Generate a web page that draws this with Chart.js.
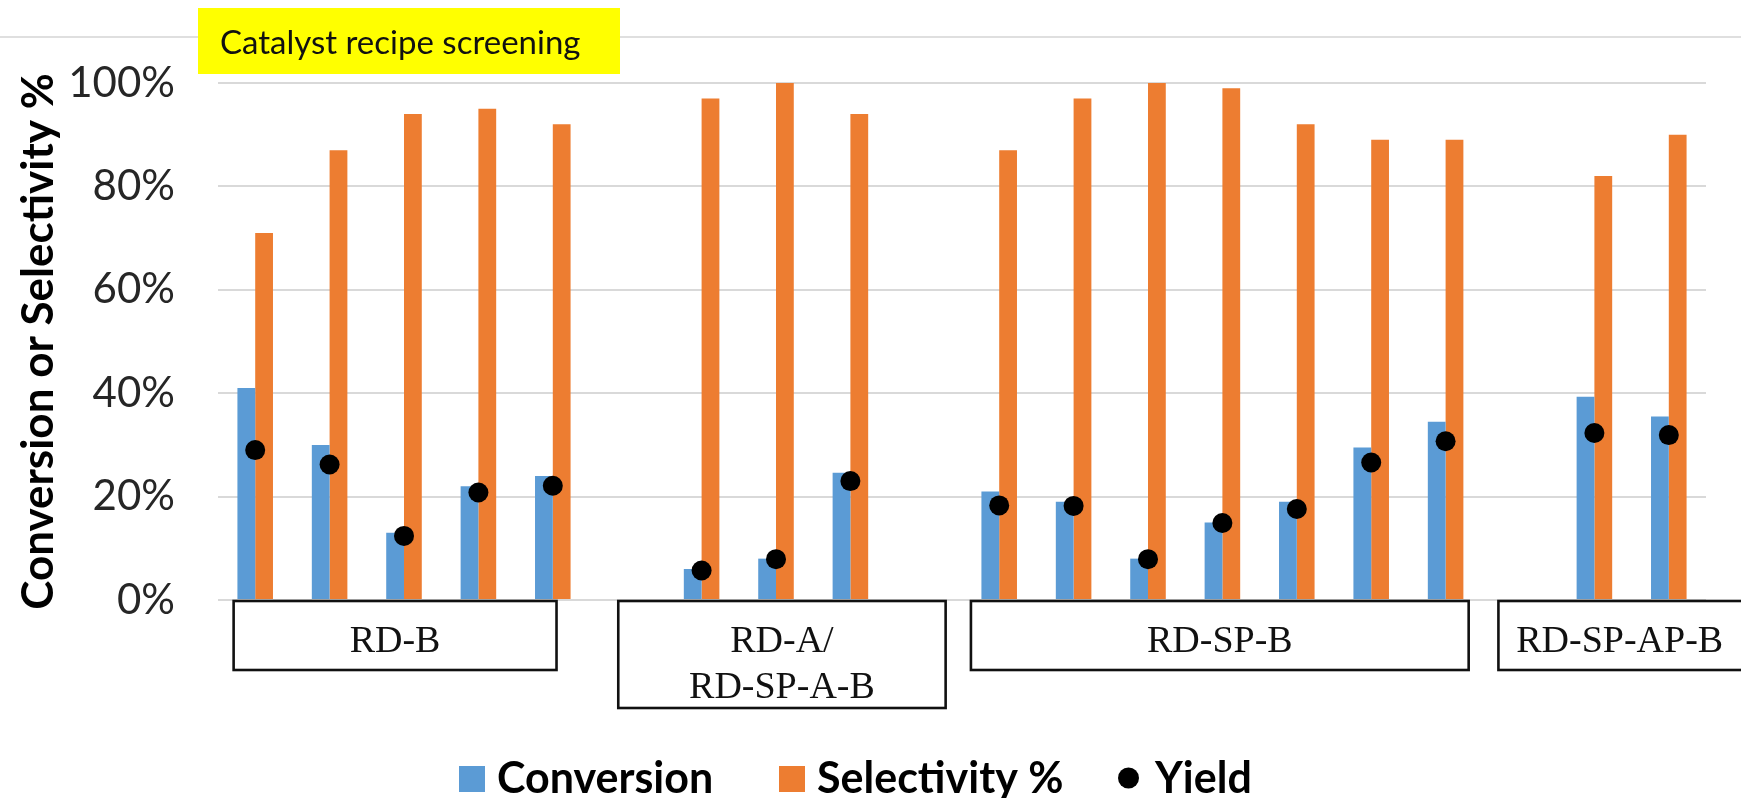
<!DOCTYPE html>
<html>
<head>
<meta charset="utf-8">
<script src="https://cdn.jsdelivr.net/npm/chart.js@4/dist/chart.umd.min.js"></script>
<style>
  html, body { margin: 0; padding: 0; background: #ffffff; }
  #wrap { width: 1741px; height: 798px; position: relative; }
</style>
</head>
<body>
<div id="wrap"><canvas id="chart" width="1741" height="798"></canvas></div>
<script>
// Catalyst recipe screening: conversion, selectivity and yield per run (%)
// Empty slots (null) separate the recipe families.
const runs = [
  'RD-B 1', 'RD-B 2', 'RD-B 3', 'RD-B 4', 'RD-B 5', '',
  'RD-A 1', 'RD-A 2', 'RD-SP-A-B 1', '',
  'RD-SP-B 1', 'RD-SP-B 2', 'RD-SP-B 3', 'RD-SP-B 4', 'RD-SP-B 5', 'RD-SP-B 6', 'RD-SP-B 7', '',
  'RD-SP-AP-B 1', 'RD-SP-AP-B 2'
];
const conversion = [41, 30, 13, 22, 24, null, 6, 8, 24.6, null, 21, 19, 8, 15, 19, 29.5, 34.5, null, 39.3, 35.5];
const selectivity = [71, 87, 94, 95, 92, null, 97, 100, 94, null, 87, 97, 100, 99, 92, 89, 89, null, 82, 90];
const yieldPct = [29, 26.2, 12.4, 20.8, 22.1, null, 5.7, 7.9, 23, null, 18.3, 18.2, 7.9, 14.9, 17.6, 26.6, 30.7, null, 32.3, 31.9];
const yTicks = [0, 20, 40, 60, 80, 100];

// Recipe family captions shown in boxes under the bars (first/last run index)
const families = [
  { lines: ['RD-B'], first: 0, last: 4 },
  { lines: ['RD-A/', 'RD-SP-A-B'], first: 6, last: 8 },
  { lines: ['RD-SP-B'], first: 10, last: 16 },
  { lines: ['RD-SP-AP-B'], first: 18, last: 19 }
];
// Box extents around each family, in category units
const familyBoxSpan = [
  { from: -0.29, to: 4.05 },
  { from: 4.88, to: 9.28 },
  { from: 9.62, to: 16.31 },
  { from: 16.71, to: 20.6 }
];

const BLUE = '#5B9BD5';
const ORANGE = '#ED7D31';
const SANS = 'Lato, "Open Sans", sans-serif';
const SERIF = '"Liberation Serif", "DejaVu Serif", serif';

const decorations = {
  id: 'decorations',
  beforeDraw(chart) {
    const { ctx, width, height } = chart;
    ctx.save();
    ctx.fillStyle = '#ffffff';
    ctx.fillRect(0, 0, width, height);
    ctx.restore();
  },
  afterDraw(chart) {
    const { ctx } = chart;
    const x = chart.scales.x;
    ctx.save();

    // thin rule across the top
    ctx.strokeStyle = '#d4d4d4';
    ctx.lineWidth = 1.5;
    ctx.beginPath();
    ctx.moveTo(0, 37);
    ctx.lineTo(chart.width, 37);
    ctx.stroke();

    // highlighted caption
    ctx.fillStyle = '#FFFF00';
    ctx.fillRect(198, 8, 422, 66);
    ctx.fillStyle = '#111111';
    ctx.font = '33px ' + SANS;
    ctx.textAlign = 'left';
    ctx.textBaseline = 'alphabetic';
    ctx.fillText('Catalyst recipe screening', 220, 54);

    // recipe family boxes
    const top = chart.chartArea.bottom + 1;
    families.forEach((fam, i) => {
      const span = familyBoxSpan[i];
      const left = x.getPixelForValue(span.from);
      const right = x.getPixelForValue(span.to);
      const h = 69 + (fam.lines.length - 1) * 38;
      ctx.fillStyle = '#ffffff';
      ctx.fillRect(left, top, right - left, h);
      ctx.strokeStyle = '#111111';
      ctx.lineWidth = 2.6;
      ctx.strokeRect(left, top, right - left, h);
      ctx.fillStyle = '#111111';
      ctx.font = '38px ' + SERIF;
      ctx.textAlign = 'center';
      ctx.textBaseline = 'alphabetic';
      const cx = Math.min((left + right) / 2, (left + chart.width) / 2);
      fam.lines.forEach((line, k) => {
        ctx.fillText(line, cx, top + 51 + k * 46);
      });
    });

    // legend, in dataset order
    const legendX = [459, 779, 1118];
    ctx.font = 'bold 43px ' + SANS;
    ctx.textAlign = 'left';
    ctx.textBaseline = 'alphabetic';
    chart.data.datasets.forEach((ds, i) => {
      const lx = legendX[i];
      ctx.fillStyle = ds.backgroundColor;
      if (ds.type === 'line') {
        ctx.beginPath();
        ctx.arc(lx + 10.5, 778, 10.5, 0, Math.PI * 2);
        ctx.fill();
        ctx.fillStyle = '#000000';
        ctx.fillText(ds.label, lx + 37, 793);
      } else {
        ctx.fillRect(lx, 766, 26, 26);
        ctx.fillStyle = '#000000';
        ctx.fillText(ds.label, lx + 38, 793);
      }
    });
    ctx.restore();
  }
};

new Chart(document.getElementById('chart'), {
  data: {
    labels: runs,
    datasets: [
      {
        type: 'bar',
        label: 'Conversion',
        data: conversion,
        backgroundColor: BLUE,
        categoryPercentage: 0.478,
        barPercentage: 1.0,
        order: 1
      },
      {
        type: 'bar',
        label: 'Selectivity %',
        data: selectivity,
        backgroundColor: ORANGE,
        categoryPercentage: 0.478,
        barPercentage: 1.0,
        order: 1
      },
      {
        type: 'line',
        label: 'Yield',
        data: yieldPct,
        showLine: false,
        backgroundColor: '#000000',
        borderColor: '#000000',
        pointRadius: 10,
        pointHoverRadius: 10,
        pointBorderWidth: 0,
        order: 0
      }
    ]
  },
  options: {
    responsive: false,
    animation: false,
    layout: { padding: { top: 83, right: 35, bottom: 198, left: 0 } },
    plugins: {
      legend: { display: false },
      tooltip: { enabled: false }
    },
    scales: {
      x: {
        display: false,
        offset: true
      },
      y: {
        min: 0,
        max: 100,
        afterBuildTicks(scale) {
          scale.ticks = yTicks.map(v => ({ value: v }));
        },
        afterFit(scale) {
          scale.width = 218;
          scale.paddingTop = 0;
          scale.paddingBottom = 0;
        },
        border: { display: false },
        grid: { color: '#d9d9d9', lineWidth: 2, drawTicks: false },
        ticks: {
          padding: 43,
          color: '#262626',
          font: { family: SANS, size: 42 },
          callback: v => v + '%'
        },
        title: {
          display: true,
          text: 'Conversion or Selectivity %',
          color: '#000000',
          font: { family: SANS, size: 44, weight: 'bold' },
          padding: { top: 12, bottom: 0 }
        }
      }
    }
  },
  plugins: [decorations]
});
</script>
</body>
</html>
